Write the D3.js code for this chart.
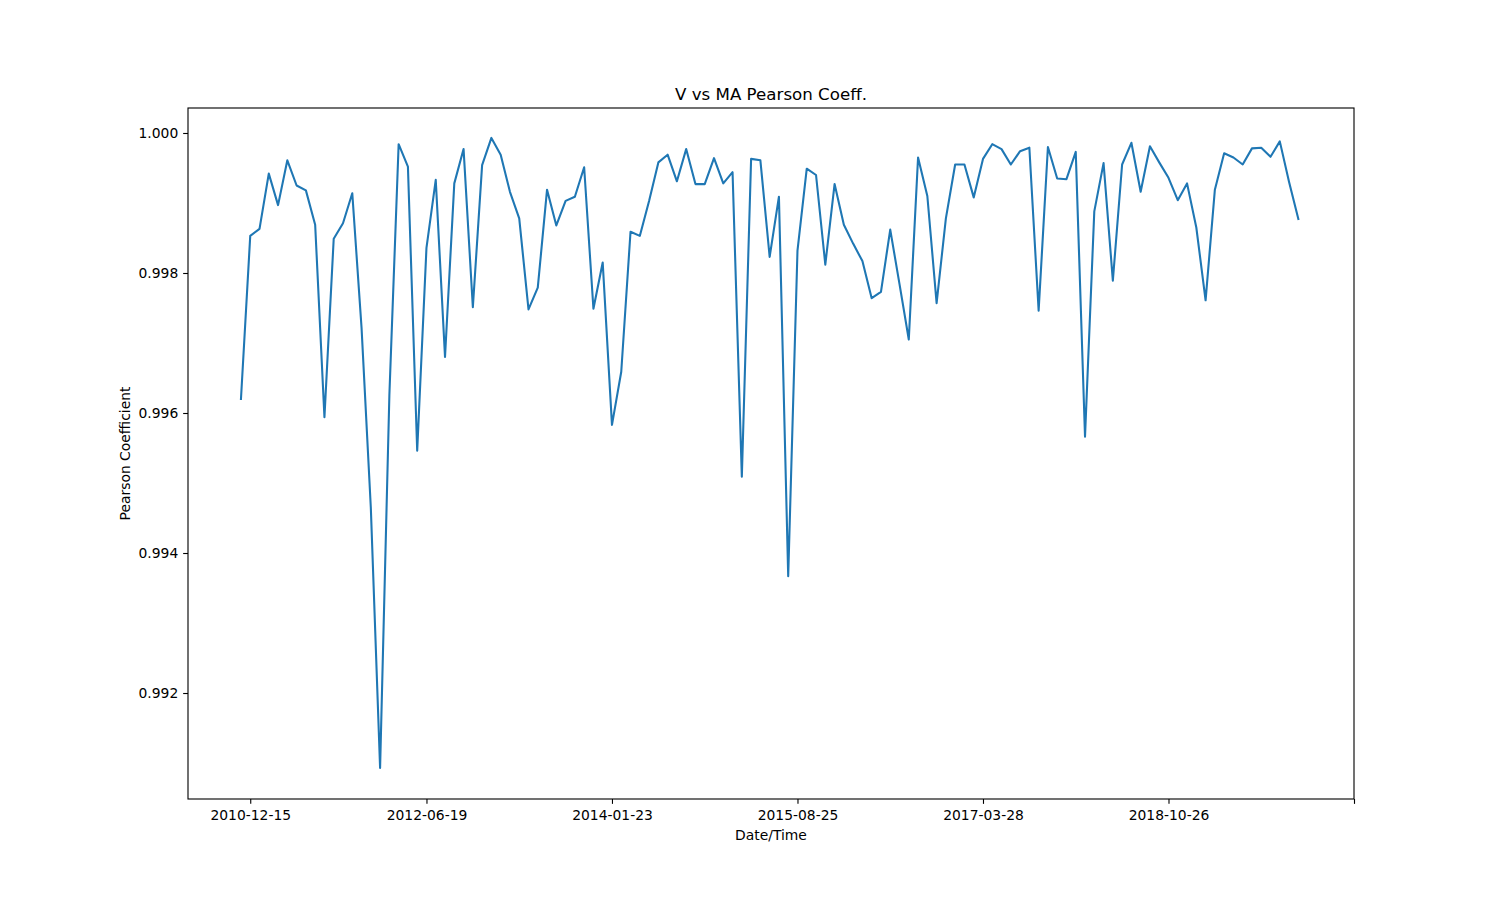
<!DOCTYPE html>
<html>
<head>
<meta charset="utf-8">
<script src="https://cdn.jsdelivr.net/npm/d3@7"></script>
<style>
  html, body { margin: 0; padding: 0; background: #ffffff; }
  svg { display: block; }
  text { font-family: "DejaVu Sans", sans-serif; fill: #000; }
</style>
</head>
<body>
<svg id="chart" width="1504" height="898"></svg>
<script>
// ---- data ----
const pearson = [
  0.99620, 0.99853, 0.99863, 0.99942, 0.99897, 0.99961, 0.99925, 0.99918, 0.99869, 0.99594,
  0.99849, 0.99871, 0.99914, 0.99722, 0.99465, 0.99093, 0.99625, 0.99984, 0.99952, 0.99546,
  0.99836, 0.99933, 0.99680, 0.99928, 0.99977, 0.99751, 0.99954, 0.99993, 0.99969, 0.99916,
  0.99878, 0.99748, 0.99779, 0.99919, 0.99868, 0.99903, 0.99909, 0.99951, 0.99749, 0.99815,
  0.99583, 0.99659, 0.99859, 0.99853, 0.99903, 0.99958, 0.99969, 0.99931, 0.99977, 0.99927,
  0.99927, 0.99964, 0.99928, 0.99944, 0.99509, 0.99963, 0.99961, 0.99823, 0.99909, 0.99367,
  0.99832, 0.99949, 0.99940, 0.99812, 0.99927, 0.99869, 0.99842, 0.99817, 0.99764, 0.99773,
  0.99862, 0.99784, 0.99705, 0.99965, 0.99910, 0.99757, 0.99878, 0.99955, 0.99955, 0.99908,
  0.99963, 0.99984, 0.99977, 0.99955, 0.99974, 0.99979, 0.99746, 0.99980, 0.99935, 0.99934,
  0.99973, 0.99566, 0.99888, 0.99957, 0.99789, 0.99955, 0.99986, 0.99916, 0.99981, 0.99958,
  0.99936, 0.99904, 0.99928, 0.99865, 0.99761, 0.99919, 0.99971, 0.99965, 0.99955, 0.99978,
  0.99979, 0.99966, 0.99988, 0.99930, 0.99877
];
const xTickIndex  = [1, 20, 40, 60, 80, 100, 120];
const xTickLabels = ["2010-12-15", "2012-06-19", "2014-01-23", "2015-08-25", "2017-03-28", "2018-10-26", ""];
const yTickValues = [0.992, 0.994, 0.996, 0.998, 1.000];
const xDomain = [-5.71, 120];
const yDomain = [0.990486, 1.000357];

const titleText = "V vs MA Pearson Coeff.";
const xLabelText = "Date/Time";
const yLabelText = "Pearson Coefficient";

// ---- layout ----
const W = 1504, H = 898;
const L = 188, R = 1354, T = 108, B = 799;
const pt = 100 / 72;
const tickLen = 3.5 * pt, tickPad = 3.5 * pt;
const fs = 10 * pt;

const svg = d3.select("#chart");

const x = d3.scaleLinear().domain(xDomain).range([L, R]);
const y = d3.scaleLinear().domain(yDomain).range([B, T]);

// line
const line = d3.line()
  .x((d, i) => x(i))
  .y(d => y(d));

svg.append("path")
  .datum(pearson)
  .attr("fill", "none")
  .attr("stroke", "#1f77b4")
  .attr("stroke-width", 1.5 * pt)
  .attr("stroke-linejoin", "round")
  .attr("stroke-linecap", "square")
  .attr("d", line);

// x axis
const xAxis = d3.axisBottom(x)
  .tickValues(xTickIndex)
  .tickFormat((d, i) => xTickLabels[i])
  .tickSizeInner(tickLen)
  .tickSizeOuter(0)
  .tickPadding(tickPad + 1.5);

const gx = svg.append("g")
  .attr("transform", `translate(0,${B})`)
  .call(xAxis);
gx.select(".domain").remove();
gx.selectAll(".tick line").attr("stroke", "#000").attr("stroke-width", 0.8 * pt);
gx.selectAll(".tick text")
  .attr("font-family", "DejaVu Sans, sans-serif")
  .attr("font-size", fs)
  .attr("fill", "#000");

// y axis
const yAxis = d3.axisLeft(y)
  .tickValues(yTickValues)
  .tickFormat(d3.format(".3f"))
  .tickSizeInner(tickLen)
  .tickSizeOuter(0)
  .tickPadding(tickPad);

const gy = svg.append("g")
  .attr("transform", `translate(${L},0)`)
  .call(yAxis);
gy.select(".domain").remove();
gy.selectAll(".tick line").attr("stroke", "#000").attr("stroke-width", 0.8 * pt);
gy.selectAll(".tick text")
  .attr("font-family", "DejaVu Sans, sans-serif")
  .attr("font-size", fs)
  .attr("fill", "#000");

// frame (spines)
svg.append("rect")
  .attr("x", L).attr("y", T)
  .attr("width", R - L).attr("height", B - T)
  .attr("fill", "none")
  .attr("stroke", "#000")
  .attr("stroke-width", 0.8 * pt);

// title
svg.append("text")
  .attr("x", (L + R) / 2)
  .attr("y", T - 6 * pt)
  .attr("text-anchor", "middle")
  .attr("font-size", 12 * pt)
  .text(titleText);

// x label
svg.append("text")
  .attr("x", (L + R) / 2)
  .attr("y", 840)
  .attr("text-anchor", "middle")
  .attr("font-size", fs)
  .text(xLabelText);

// y label
svg.append("text")
  .attr("transform", `translate(130,${(T + B) / 2}) rotate(-90)`)
  .attr("text-anchor", "middle")
  .attr("font-size", fs)
  .text(yLabelText);
</script>
</body>
</html>
